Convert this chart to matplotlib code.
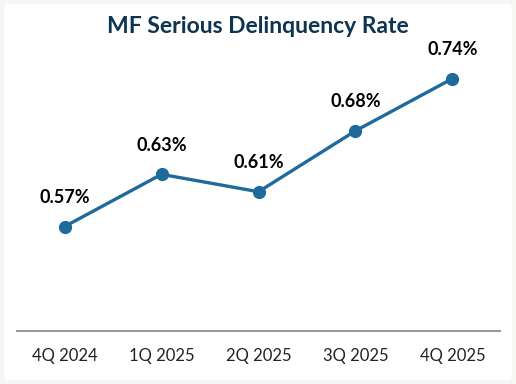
import matplotlib
matplotlib.use('Agg')
import matplotlib.pyplot as plt
from matplotlib.patches import FancyBboxPatch

# Data
quarters = ['4Q 2024', '1Q 2025', '2Q 2025', '3Q 2025', '4Q 2025']
rates = [0.57, 0.63, 0.61, 0.68, 0.74]
labels = ['0.57%', '0.63%', '0.61%', '0.68%', '0.74%']

LINE_COLOR = '#1f6a9b'
TITLE_COLOR = '#0e3450'

plt.rcParams['font.family'] = ['Lato', 'DejaVu Sans']

fig = plt.figure(figsize=(5.16, 3.84), dpi=100)
fig.patch.set_facecolor('#f6f6f4')

# white card with rounded corners
card = FancyBboxPatch((0.008, 0.01), 0.984, 0.98,
                      boxstyle='round,pad=0,rounding_size=0.01',
                      transform=fig.transFigure, facecolor='white',
                      edgecolor='none', zorder=-1)
fig.patches.append(card)

ax = fig.add_axes([0.033, 0.138, 0.936, 0.748])
ax.set_facecolor('none')
ax.set_zorder(2)

x = list(range(len(quarters)))
ax.plot(x, rates, color=LINE_COLOR, linewidth=2.4, marker='o',
        markersize=8.5, zorder=3)

for xi, yi, lab in zip(x, rates, labels):
    ax.annotate(lab, (xi, yi), xytext=(0, 21), textcoords='offset points',
                ha='center', va='center', fontsize=13, fontweight='bold',
                color='black')

ax.set_xlim(-0.49, 4.49)
ax.set_ylim(0.45, 0.78)
ax.set_xticks(x)
ax.set_xticklabels(quarters, fontsize=12, color='#222222')
ax.tick_params(axis='x', length=0, pad=12)
ax.set_yticks([])

for side in ['top', 'right', 'left']:
    ax.spines[side].set_visible(False)
ax.spines['bottom'].set_color('#999999')
ax.spines['bottom'].set_linewidth(1.5)

fig.text(0.5, 0.932, 'MF Serious Delinquency Rate', ha='center', va='center',
         fontsize=16.5, fontweight='bold', color=TITLE_COLOR)

fig.savefig('out.png', dpi=100, facecolor=fig.get_facecolor())
